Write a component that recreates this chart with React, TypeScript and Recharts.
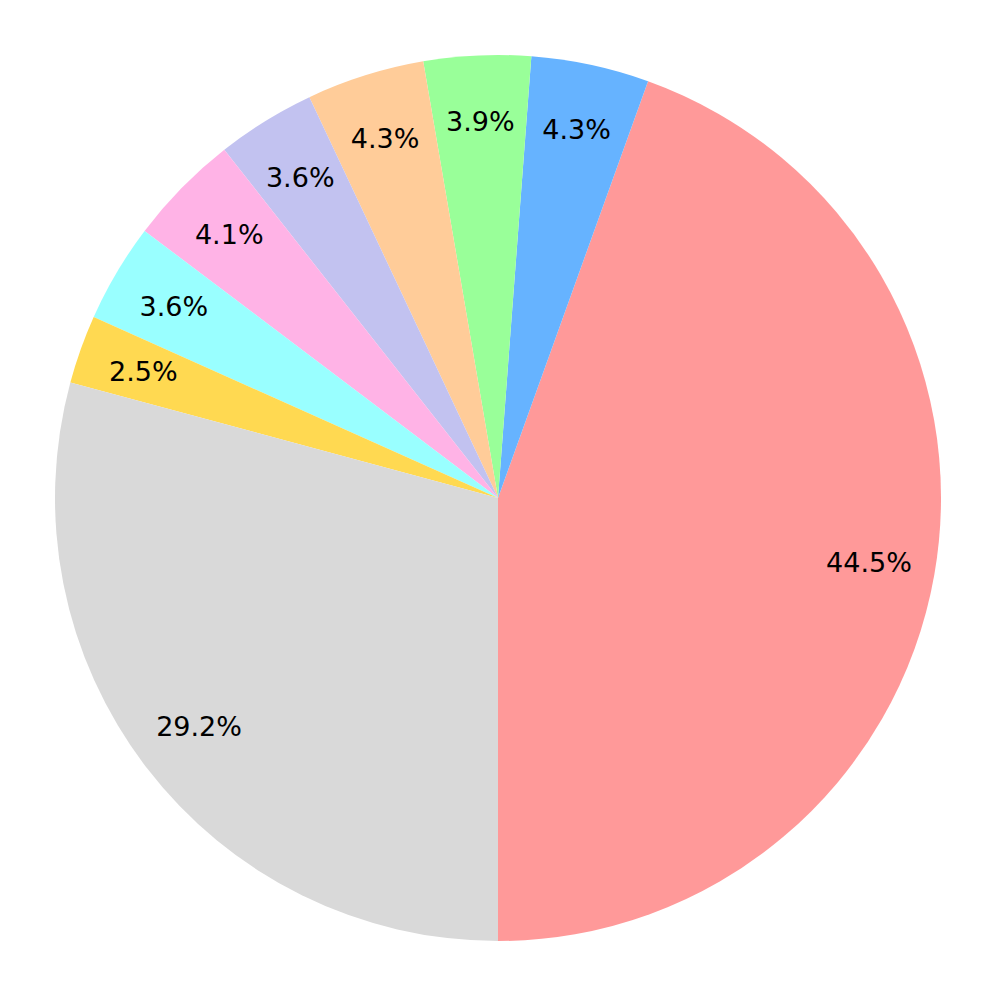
import { PieChart, Pie, Cell } from 'recharts';

// Slice shares (percent), in drawing order (counterclockwise from the bottom)
const shares = [44.5, 4.3, 3.9, 4.3, 3.6, 4.1, 3.6, 2.5, 29.2];
const colors = [
  '#ff9999',
  '#66b3ff',
  '#99ff99',
  '#ffcc99',
  '#c2c2f0',
  '#ffb3e6',
  '#99ffff',
  '#ffd951',
  '#d9d9d9',
];

const data = shares.map((v, i) => ({ name: `s${i}`, value: v }));

const RADIAN = Math.PI / 180;

// percent label at 0.85 of the radius, like matplotlib's pctdistance
function renderLabel({ cx, cy, midAngle, outerRadius, percent }: any) {
  const r = outerRadius * 0.85;
  const x = cx + r * Math.cos(-midAngle * RADIAN);
  const y = cy + r * Math.sin(-midAngle * RADIAN);
  return (
    <text
      x={x}
      y={y}
      fill="#000"
      textAnchor="middle"
      dominantBaseline="central"
      fontSize={27}
      fontFamily="DejaVu Sans"
    >
      {(percent * 100).toFixed(1)}%
    </text>
  );
}

export default function App() {
  return (
    <div style={{ position: 'absolute', left: 0, top: 0, width: 997, height: 997, background: '#fff' }}>
      <PieChart width={997} height={997} margin={{ top: 0, right: 0, bottom: 0, left: 0 }}>
        <Pie
          data={data}
          dataKey="value"
          cx={498}
          cy={498}
          outerRadius={443}
          startAngle={-90}
          endAngle={270}
          stroke="none"
          label={renderLabel}
          labelLine={false}
          isAnimationActive={false}
        >
          {data.map((d, i) => (
            <Cell key={d.name} fill={colors[i]} />
          ))}
        </Pie>
      </PieChart>
    </div>
  );
}
